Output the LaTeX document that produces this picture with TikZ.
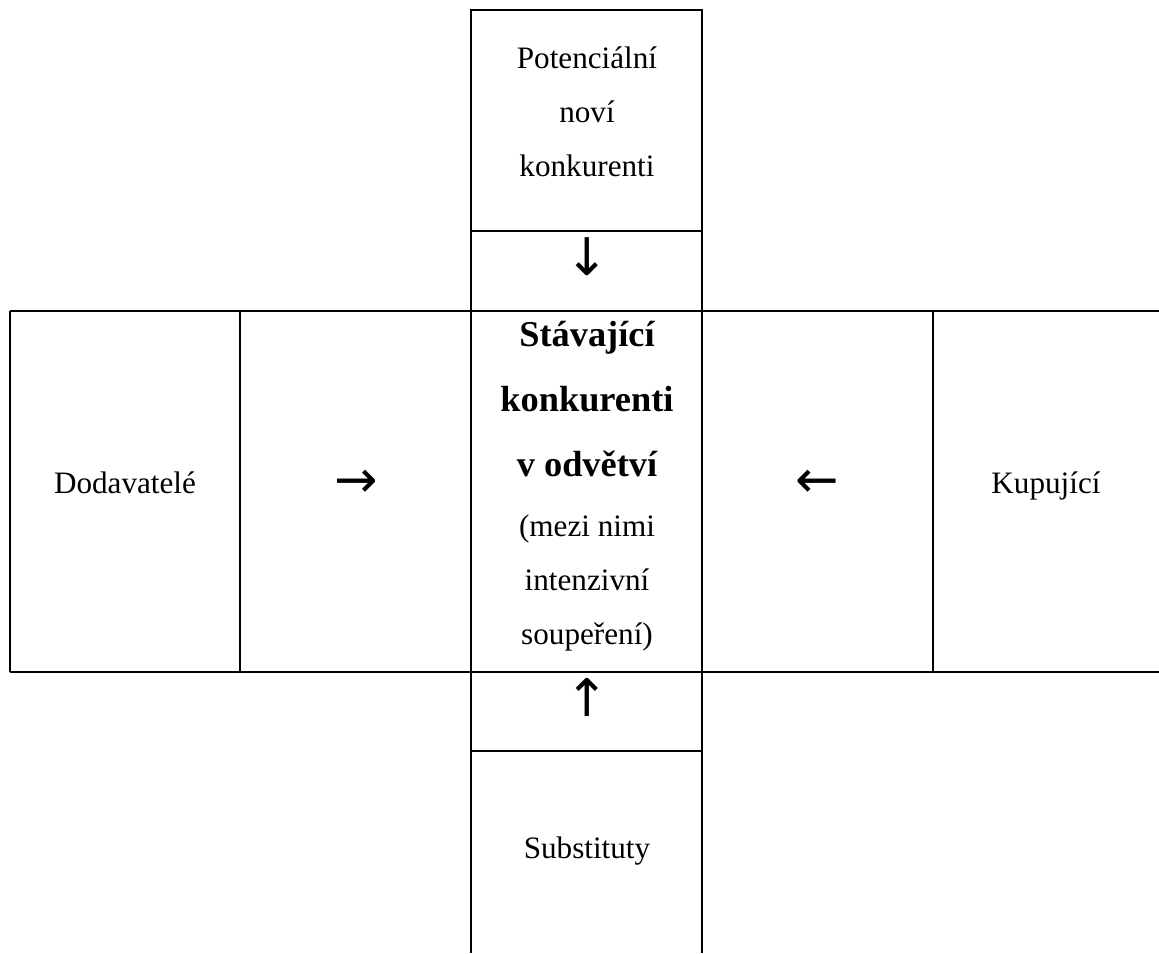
\documentclass[tikz,border=0pt]{standalone}
\usepackage{fontspec}
\setmainfont{Liberation Serif}
\newfontfamily\arrowfont{DejaVu Sans}
\begin{document}
\begin{tikzpicture}[x=0.385pt, y=-0.385pt, font=\fontsize{12}{20.8}\selectfont,
    frame/.style={line width=1pt},
    txt/.style={anchor=base, inner sep=0pt},
    boldtxt/.style={txt, font=\fontsize{14}{24}\selectfont\bfseries},
    glyph/.style={inner sep=0pt, font=\arrowfont\fontsize{20}{22}\selectfont}]
    \useasboundingbox (0,0) rectangle (1159,953);
    % cell borders
    \draw[frame] (471,953) -- (471,10) -- (702,10) -- (702,953);
    \draw[frame] (471,231) -- (702,231);
    \draw[frame] (471,751) -- (702,751);
    \draw[frame] (10,311) -- (1159,311);
    \draw[frame] (10,672) -- (1159,672);
    \draw[frame] (10,311) -- (10,672);
    \draw[frame] (240,311) -- (240,672);
    \draw[frame] (933,311) -- (933,672);

    % top cell
    \foreach \t [count=\i] in {Potenciální, noví, konkurenti}
        \node[txt] (pot\i) at (587, 14+54*\i) {\t};

    % middle cell
    \foreach \t [count=\i] in {Stávající, konkurenti, v odvětví}
        \node[boldtxt] (cur\i) at (587, 281+65*\i) {\t};
    \foreach \t [count=\i] in {{(mezi nimi}, intenzivní, {soupeření)}}
        \node[txt] (riv\i) at (587, 482+54*\i) {\t};

    % side and bottom cells
    \node[txt] (sup) at (125,493) {Dodavatelé};
    \node[txt] (buy) at (1046,493) {Kupující};
    \node[txt] (sub) at (587,858) {Substituty};

    % arrows
    \node[glyph] (arrN) at (587,257) {↓};
    \node[glyph] (arrS) at (587,697) {↑};
    \node[glyph] (arrW) at (356,484) {→};
    \node[glyph] (arrE) at (817,484) {←};
\end{tikzpicture}
\end{document}
